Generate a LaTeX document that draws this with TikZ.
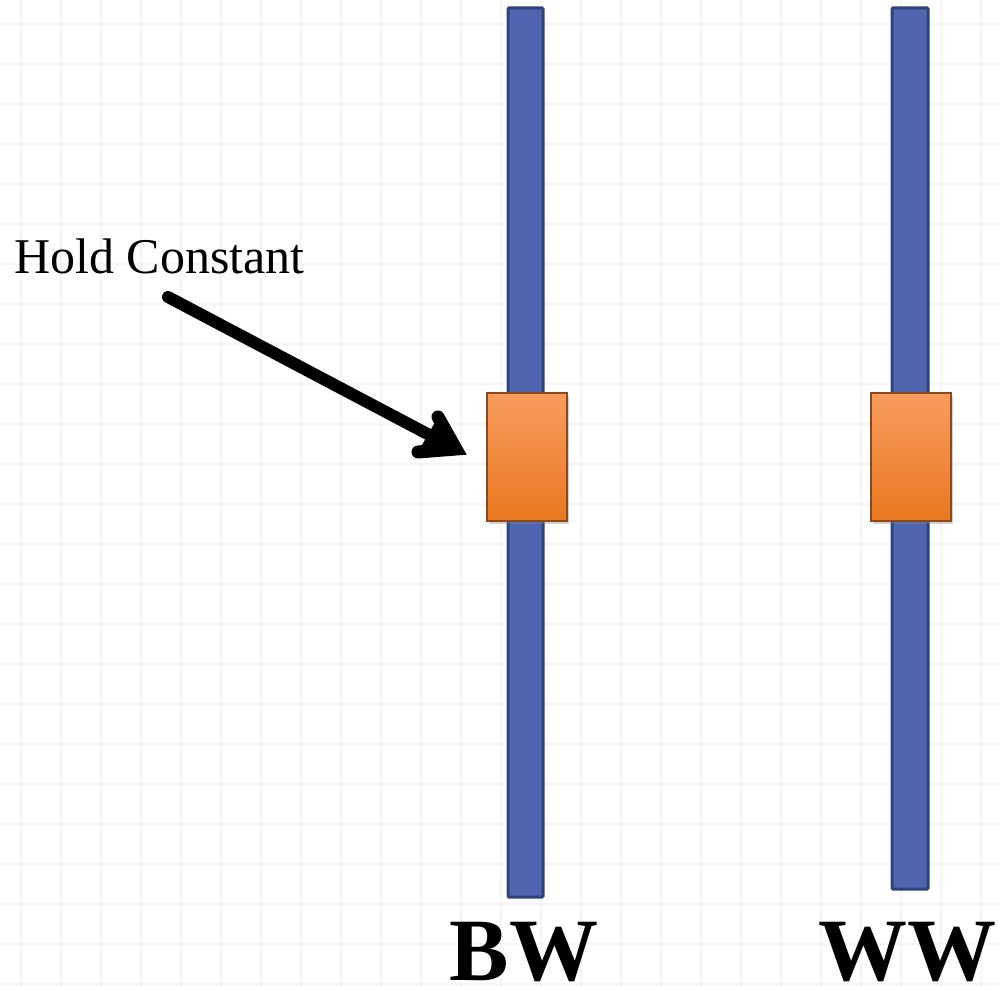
\documentclass[tikz,border=0pt]{standalone}
\usepackage{fontspec}
\setmainfont{Liberation Serif}
\usetikzlibrary{shadows}
\definecolor{gridc}{HTML}{F5F5F5}
\definecolor{barfill}{HTML}{4F65B0}
\definecolor{bardraw}{HTML}{2F4279}
\definecolor{orgtop}{HTML}{F89C5E}
\definecolor{orgbot}{HTML}{E8781F}
\definecolor{orgdraw}{HTML}{8A4A1E}
\tikzset{
  gridline/.style={draw=gridc, line width=2pt},
  barbox/.style={draw=bardraw, fill=barfill, line width=3pt, rounded corners=1pt},
  slider/.style={draw=orgdraw, line width=2pt, top color=orgtop, bottom color=orgbot,
    drop shadow={shadow xshift=2pt, shadow yshift=-3pt, opacity=0.35}},
  lbl/.style={font=\fontsize{50}{60}\selectfont, inner sep=0pt},
  biglbl/.style={font=\fontsize{89}{100}\selectfont\bfseries, inner sep=0pt},
  shaft/.style={draw=black, line width=12pt, line cap=round},
  headstroke/.style={draw=black, line width=13pt, line cap=round, line join=miter, miter limit=10}
}
\begin{document}
\begin{tikzpicture}[x=1pt,y=-1pt]
\clip (0,0) rectangle (999,987);
\fill[white] (0,0) rectangle (999,987);
% grid
\foreach \gx in {21,61,...,1000} \draw[gridline] (\gx,0) -- (\gx,987);
\foreach \gy in {24,64,...,990} \draw[gridline] (0,\gy) -- (999,\gy);
% bars
\path[barbox] (508,8) rectangle (543,897);
\path[barbox] (892,8) rectangle (928,889);
% sliders
\path[slider] (487,393) rectangle (567,521);
\node[inner sep=0pt, minimum width=80pt, minimum height=128pt] (bwslider) at (527,457) {};
\path[slider] (871,393) rectangle (951,521);
\node[inner sep=0pt, minimum width=80pt, minimum height=128pt] (wwslider) at (911,457) {};
% labels
\node[lbl, anchor=base west] (hold) at (14,273) {Hold Constant};
\node[biglbl, anchor=base] (bw) at (524,980) {BW};
\node[biglbl, anchor=base west] (ww) at (818,980) {WW};
% arrow
\coordinate (astart) at (168,297);
\coordinate (hc) at (456,449);
\coordinate (hw1) at (438,417);
\coordinate (hw2) at (418,452);
\draw[shaft] (astart) -- (hc);
\fill[black] (hw1) -- (hc) -- (hw2) -- cycle;
\draw[headstroke] (hw1) -- (hc) -- (hw2);
\end{tikzpicture}
\end{document}
